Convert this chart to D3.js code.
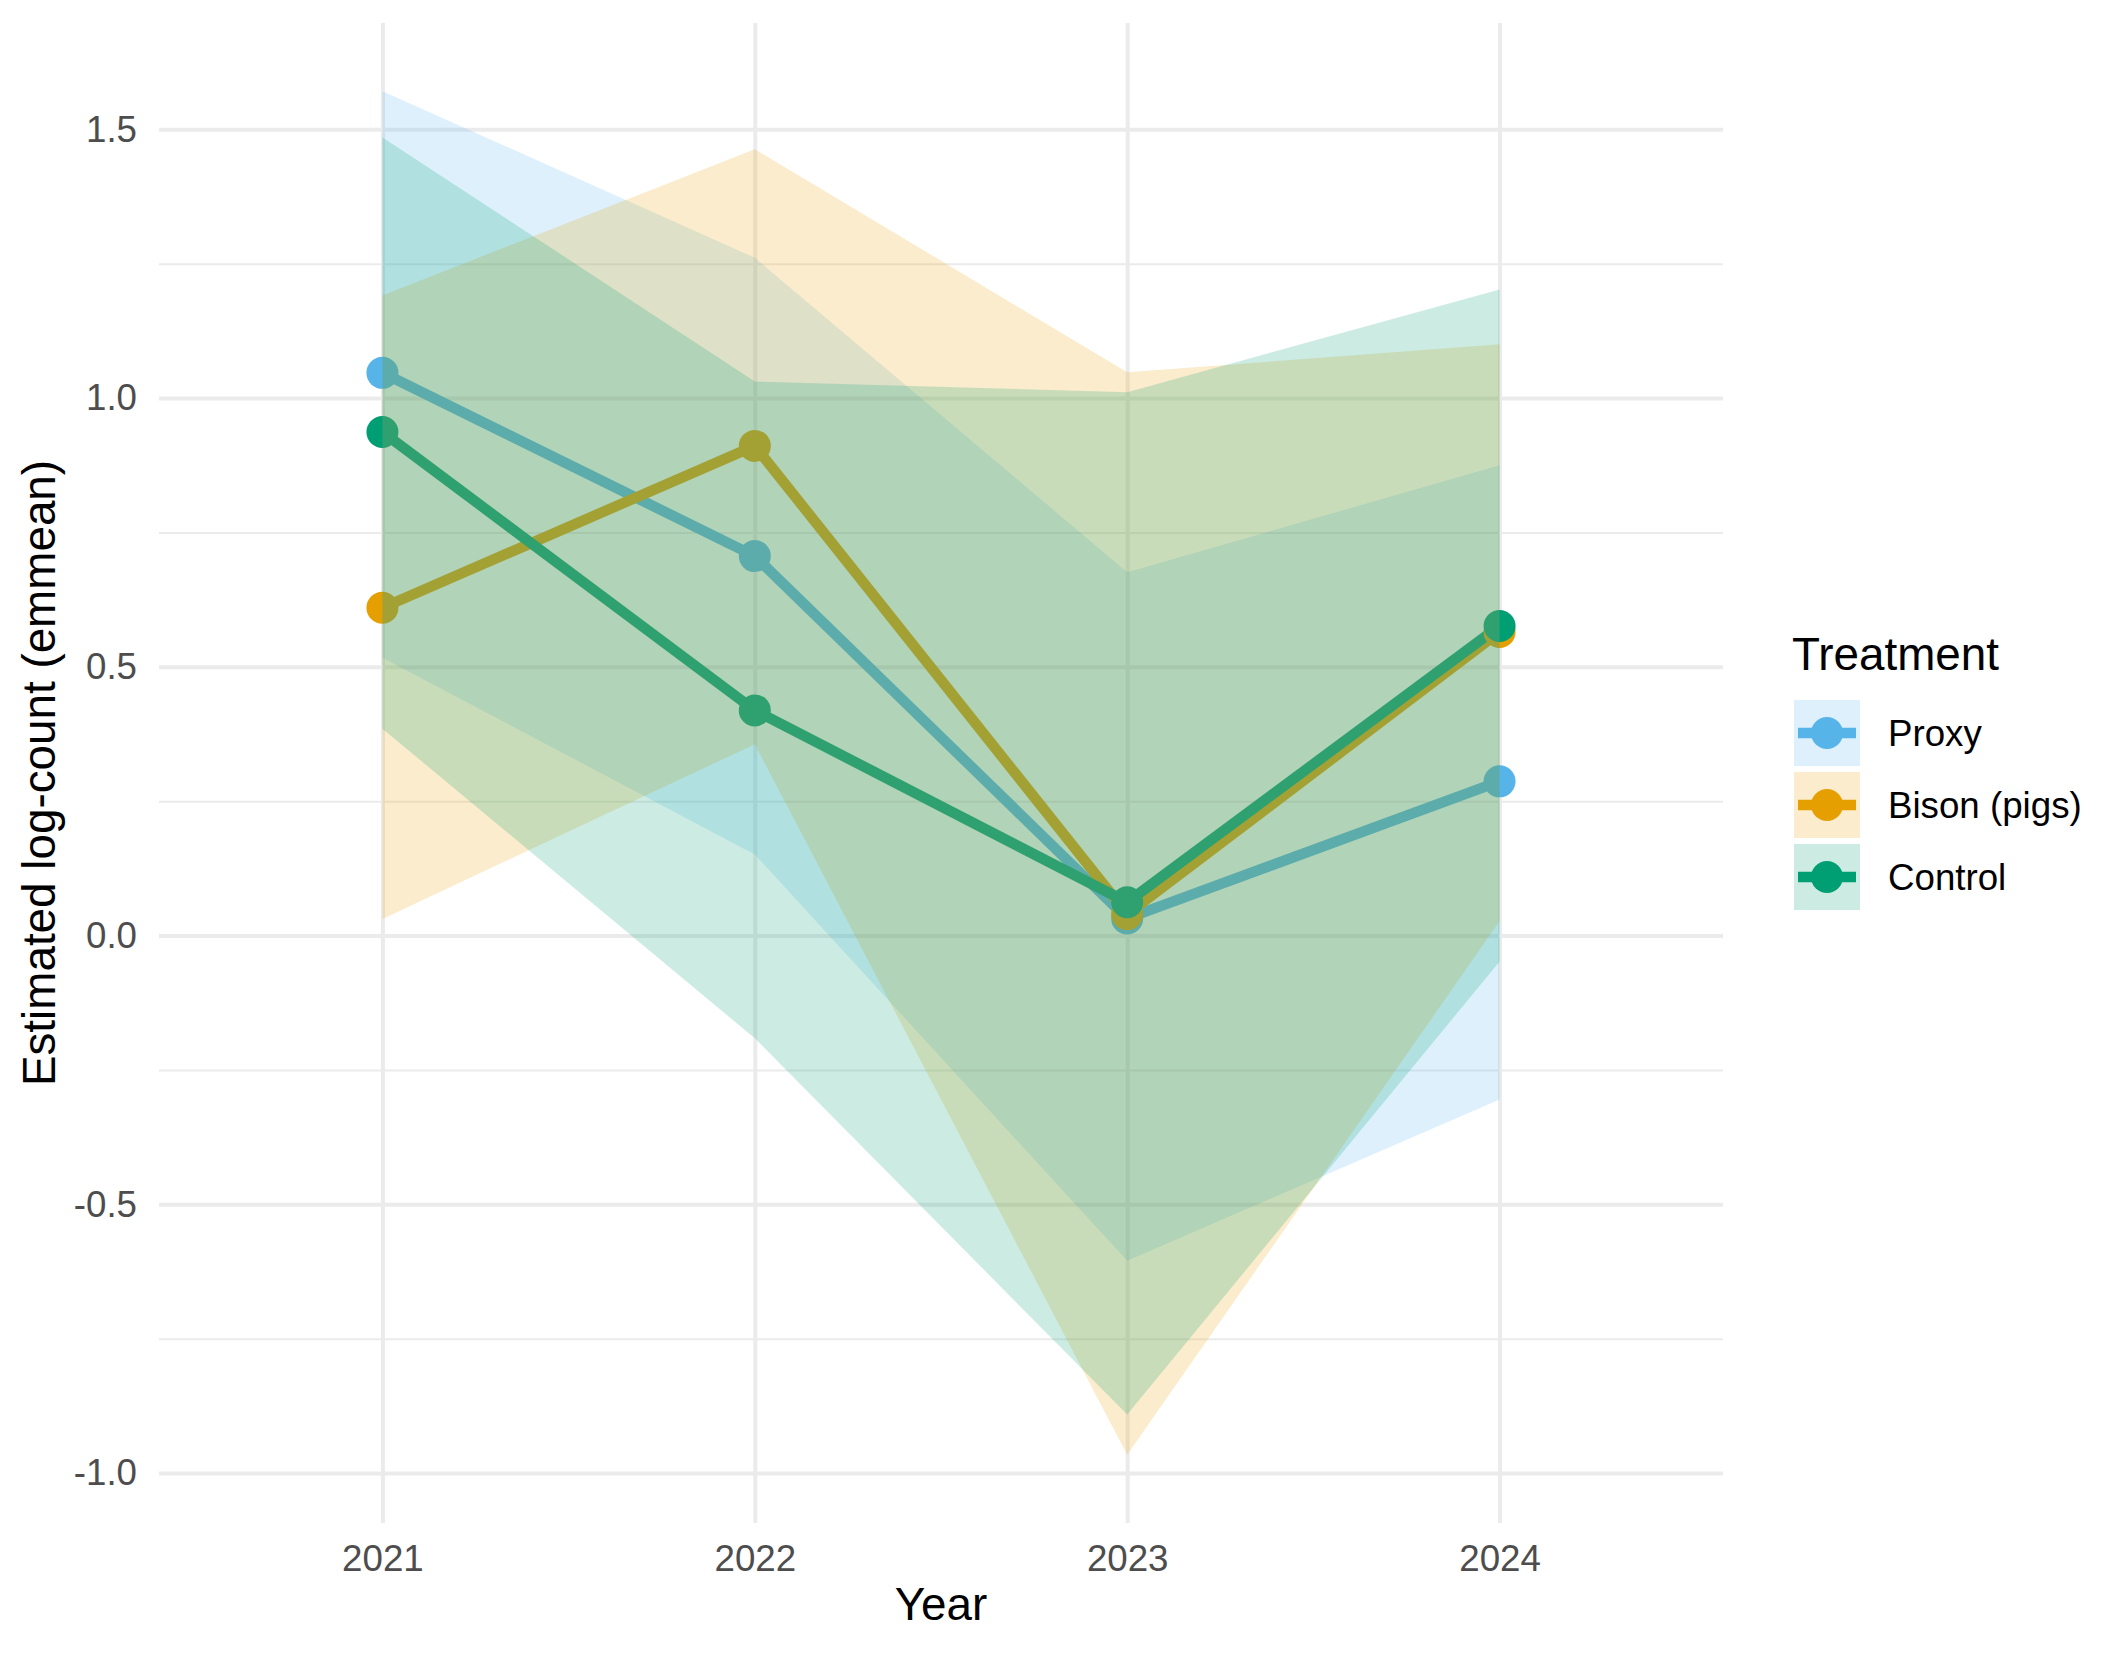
<!DOCTYPE html>
<html>
<head>
<meta charset="utf-8">
<script src="https://cdn.jsdelivr.net/npm/d3@7"></script>
<style>
    body { margin: 0; background: #ffffff; }
    text { font-family: "Liberation Sans", Arial, sans-serif; }
</style>
</head>
<body>
<script>
// Données
const years = ['2021', '2022', '2023', '2024']
const treatments = ['Proxy', 'Bison (pigs)', 'Control']
const colors = ['#56B4E9', '#E69F00', '#009E73']

const proxyMean = [1.047, 0.706, 0.032, 0.287]
const proxyLower = [0.517, 0.151, -0.605, -0.305]
const proxyUpper = [1.571, 1.261, 0.676, 0.875]

const bisonMean = [0.610, 0.911, 0.040, 0.565]
const bisonLower = [0.031, 0.356, -0.966, 0.027]
const bisonUpper = [1.191, 1.463, 1.048, 1.100]

const controlMean = [0.937, 0.419, 0.062, 0.576]
const controlLower = [0.385, -0.191, -0.891, -0.048]
const controlUpper = [1.485, 1.031, 1.011, 1.202]

const majorTicks = [-1.0, -0.5, 0.0, 0.5, 1.0, 1.5]
const minorTicks = [-0.75, -0.25, 0.25, 0.75, 1.25]

// Construit une série par traitement
const means = [proxyMean, bisonMean, controlMean]
const lowers = [proxyLower, bisonLower, controlLower]
const uppers = [proxyUpper, bisonUpper, controlUpper]
const series = treatments.map((name, i) => ({
    name: name,
    color: colors[i],
    values: years.map((year, j) => ({
        year: year,
        mean: means[i][j],
        lower: lowers[i][j],
        upper: uppers[i][j]
    }))
}))

// Dimensions
const width = 2125, height = 1653
const panel = { left: 159, right: 1723, top: 23, bottom: 1523 }

const svg = d3.select('body').append('svg')
    .attr('width', width)
    .attr('height', height)

svg.append('rect')
    .attr('width', width)
    .attr('height', height)
    .attr('fill', '#ffffff')

// Echelles (expansion de 5% comme ggplot)
const allLow = d3.min(lowers.flat())
const allHigh = d3.max(uppers.flat())
const pad = (allHigh - allLow) * 0.05

const x = d3.scalePoint()
    .domain(years)
    .range([panel.left, panel.right])
    .padding(0.6)

const y = d3.scaleLinear()
    .domain([allLow - pad, allHigh + pad])
    .range([panel.bottom, panel.top])

// Grille mineure
svg.append('g')
    .attr('transform', `translate(${panel.left},0)`)
    .call(d3.axisLeft(y).tickValues(minorTicks).tickSize(-(panel.right - panel.left)).tickFormat(''))
    .call(g => g.select('.domain').remove())
    .selectAll('line')
    .attr('stroke', '#EBEBEB')
    .attr('stroke-width', 2)

// Axe Y + grille majeure
const yAxis = svg.append('g')
    .attr('transform', `translate(${panel.left},0)`)
    .call(d3.axisLeft(y).tickValues(majorTicks).tickSize(-(panel.right - panel.left)).tickPadding(22).tickFormat(d => d.toFixed(1)))
    .call(g => g.select('.domain').remove())
yAxis.selectAll('line')
    .attr('stroke', '#EBEBEB')
    .attr('stroke-width', 4)
yAxis.selectAll('text')
    .attr('fill', '#4D4D4D')
    .style('font-size', '36.7px')
    .style('font-family', '"Liberation Sans", Arial, sans-serif')

// Axe X + grille verticale
const xAxis = svg.append('g')
    .attr('transform', `translate(0,${panel.bottom})`)
    .call(d3.axisBottom(x).tickSize(-(panel.bottom - panel.top)).tickPadding(22))
    .call(g => g.select('.domain').remove())
xAxis.selectAll('line')
    .attr('stroke', '#EBEBEB')
    .attr('stroke-width', 4)
xAxis.selectAll('text')
    .attr('fill', '#4D4D4D')
    .style('font-size', '36.7px')
    .style('font-family', '"Liberation Sans", Arial, sans-serif')

// Lignes
const line = d3.line()
    .x(d => x(d.year))
    .y(d => y(d.mean))

svg.append('g')
    .selectAll('path')
    .data(series)
    .join('path')
    .attr('d', d => line(d.values))
    .attr('fill', 'none')
    .attr('stroke', d => d.color)
    .attr('stroke-width', 10.5)
    .attr('stroke-linejoin', 'round')

// Points
series.forEach(s => {
    svg.append('g')
        .selectAll('circle')
        .data(s.values)
        .join('circle')
        .attr('cx', d => x(d.year))
        .attr('cy', d => y(d.mean))
        .attr('r', 16)
        .attr('fill', s.color)
})

// Rubans (dessinés par-dessus, alpha 0.2)
const area = d3.area()
    .x(d => x(d.year))
    .y0(d => y(d.lower))
    .y1(d => y(d.upper))

svg.append('g')
    .selectAll('path')
    .data(series)
    .join('path')
    .attr('d', d => area(d.values))
    .attr('fill', d => d.color)
    .attr('fill-opacity', 0.2)

// Titres des axes
svg.append('text')
    .attr('x', (panel.left + panel.right) / 2)
    .attr('y', 1620)
    .attr('text-anchor', 'middle')
    .style('font-size', '45.8px')
    .attr('fill', '#000000')
    .text('Year')

svg.append('text')
    .attr('transform', `translate(55,${(panel.top + panel.bottom) / 2}) rotate(-90)`)
    .attr('text-anchor', 'middle')
    .style('font-size', '45.8px')
    .attr('fill', '#000000')
    .text('Estimated log-count (emmean)')

// Légende
const legend = svg.append('g')

legend.append('text')
    .attr('x', 1792)
    .attr('y', 670)
    .style('font-size', '45.8px')
    .attr('fill', '#000000')
    .text('Treatment')

const keys = legend.selectAll('g.key')
    .data(series)
    .join('g')
    .attr('class', 'key')
    .attr('transform', (d, i) => `translate(1794,${700 + i * 72})`)

keys.append('rect')
    .attr('width', 66)
    .attr('height', 66)
    .attr('fill', d => d.color)
    .attr('fill-opacity', 0.2)

keys.append('line')
    .attr('x1', 4)
    .attr('x2', 62)
    .attr('y1', 33)
    .attr('y2', 33)
    .attr('stroke', d => d.color)
    .attr('stroke-width', 10.5)

keys.append('circle')
    .attr('cx', 33)
    .attr('cy', 33)
    .attr('r', 16)
    .attr('fill', d => d.color)

keys.append('text')
    .attr('x', 94)
    .attr('y', 33)
    .attr('dy', '0.35em')
    .style('font-size', '36.7px')
    .attr('fill', '#000000')
    .text(d => d.name)
</script>
</body>
</html>
